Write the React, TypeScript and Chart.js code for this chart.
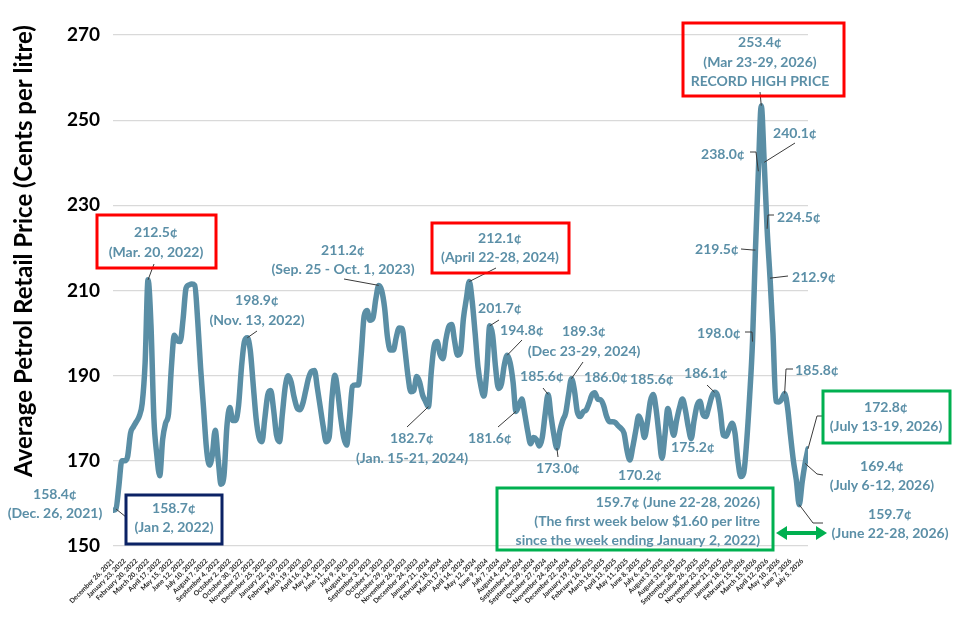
import { useEffect, useRef } from 'react';
import { Chart, registerables } from 'chart.js';

Chart.register(...registerables);

const FONT = 'Lato, "Open Sans", "DejaVu Sans", sans-serif';
const LINE_COLOR = '#5a8ea5';
const TEXT_COLOR = '#5b8fa7';
const LEADER_COLOR = '#3a3a3a';
const RED = '#ff0000';
const NAVY = '#0b2265';
const GREEN = '#00b050';

const Y_TITLE = 'Average Petrol Retail Price (Cents per litre)';
const Y_MIN = 150;
const Y_MAX = 270;
const Y_STEP = 20;

// One label every fourth week (week-ending Sundays)
const TICK_LABELS = [
  'December 26, 2021', 'January 23, 2022', 'February 20, 2022', 'March 20, 2022',
  'April 17, 2022', 'May 15, 2022', 'June 12, 2022', 'July 10, 2022',
  'August 7, 2022', 'September 4, 2022', 'October 2, 2022', 'October 30, 2022',
  'November 27, 2022', 'December 25, 2022', 'January 22, 2023', 'February 19, 2023',
  'March 19, 2023', 'April 16, 2023', 'May 14, 2023', 'June 11, 2023',
  'July 9, 2023', 'August 6, 2023', 'September 3, 2023', 'October 1, 2023',
  'October 29, 2023', 'November 26, 2023', 'December 24, 2023', 'January 21, 2024',
  'February 18, 2024', 'March 17, 2024', 'April 14, 2024', 'May 12, 2024',
  'June 9, 2024', 'July 7, 2024', 'August 4, 2024', 'September 1, 2024',
  'September 29, 2024', 'October 27, 2024', 'November 24, 2024', 'December 22, 2024',
  'January 19, 2025', 'February 16, 2025', 'March 16, 2025', 'April 13, 2025',
  'May 11, 2025', 'June 8, 2025', 'July 6, 2025', 'August 3, 2025',
  'August 31, 2025', 'September 28, 2025', 'October 26, 2025', 'November 23, 2025',
  'December 21, 2025', 'January 18, 2026', 'February 15, 2026', 'March 15, 2026',
  'April 12, 2026', 'May 10, 2026', 'June 7, 2026', 'July 5, 2026',
];

// Weekly average retail price, cents per litre (week 0 = Dec 26, 2021)
const PRICES_2022 = [
  158.4, 158.7, 164.0, 170.0, 170.0, 171.0, 176.5, 178.0, 179.2, 180.5,
  183.5, 193.0, 212.5, 202.0, 180.0, 171.4, 166.5, 175.0, 178.8, 181.0,
  192.0, 199.5, 198.2, 198.0, 203.3, 210.5, 211.3, 211.5, 211.2, 203.0,
  191.8, 182.5, 173.0, 169.0, 171.3, 177.2, 170.5, 164.5, 166.5, 178.0,
  182.5, 179.5, 179.5, 183.0, 192.0, 198.0, 198.9, 196.0, 188.0, 180.0,
  175.5, 174.5,
];
const PRICES_2023 = [
  180.0, 185.5, 186.5, 182.0, 176.0, 174.5, 181.0, 187.5, 190.0, 188.5,
  185.0, 182.5, 182.0, 183.5, 186.5, 189.5, 191.0, 191.2, 187.0, 182.5,
  178.0, 174.5, 175.5, 185.0, 190.1, 186.0, 180.0, 175.5, 173.7, 180.0,
  187.5, 187.8, 187.8, 195.0, 204.0, 205.3, 203.0, 203.5, 208.0, 211.2,
  210.0, 206.0, 199.0, 196.0, 196.0, 199.0, 201.2, 201.1, 196.0, 190.0,
  186.2, 186.5,
];
const PRICES_2024 = [
  189.8, 188.5, 185.5, 184.0, 182.7, 191.0, 197.0, 198.0, 195.0, 194.0,
  198.5, 201.5, 202.0, 198.0, 194.8, 195.5, 203.4, 208.0, 212.1, 207.5,
  200.0, 192.0, 187.5, 185.2, 191.0, 201.7, 199.5, 192.0, 187.0, 188.0,
  192.5, 194.8, 193.0, 188.5, 181.6, 183.0, 184.5, 181.0, 177.0, 174.0,
  175.5, 175.0, 173.5, 175.5, 181.0, 185.6, 180.5, 176.0, 173.0, 177.0,
  179.5, 181.2, 185.5,
];
const PRICES_2025 = [
  189.3, 186.6, 181.5, 180.4, 181.5, 181.9, 183.5, 185.5, 186.0, 184.5,
  184.3, 183.0, 180.5, 179.2, 179.2, 179.0, 178.2, 177.6, 176.5, 172.5,
  170.2, 173.3, 177.0, 180.5, 179.0, 175.5, 179.0, 184.0, 185.6, 182.0,
  176.0, 170.6, 176.0, 182.3, 179.2, 176.0, 179.5, 182.5, 184.5, 182.0,
  178.0, 175.2, 179.5, 183.0, 184.0, 181.0, 180.4, 182.5, 185.0, 186.1,
  185.4, 181.5,
];
const PRICES_2026 = [
  176.0, 175.8, 177.5, 178.8, 176.5, 170.0, 166.3, 167.2, 174.5, 185.0,
  198.0, 219.5, 238.0, 253.4, 240.1, 224.5, 212.9, 200.0, 184.0, 183.8,
  184.5, 185.8, 182.5, 176.0, 170.0, 165.5, 159.7, 165.0, 169.4, 172.8,
];
const PRICES = [...PRICES_2022, ...PRICES_2023, ...PRICES_2024, ...PRICES_2025, ...PRICES_2026];

type Pt = [number, number];
type Callout = {
  week: number;
  extra: string[];
  x: number;
  ys: number[];
  leader?: Pt[];
  box?: [number, number, number, number];
  boxColor?: string;
  align?: CanvasTextAlign;
  valueSuffix?: string;
};

// Text blocks with their leader lines; the leader always ends on the data point of `week`
const CALLOUTS: Callout[] = [
  { week: 0, extra: ['(Dec. 26, 2021)'], x: 55, ys: [494, 513] },
  { week: 1, extra: ['(Jan 2, 2022)'], x: 174, ys: [508, 527], leader: [[126, 517]], box: [126, 495, 96, 49], boxColor: NAVY },
  { week: 12, extra: ['(Mar. 20, 2022)'], x: 156, ys: [232, 252], leader: [[154, 264]], box: [97, 215, 119, 53], boxColor: RED },
  { week: 46, extra: ['(Nov. 13, 2022)'], x: 257, ys: [300, 320], leader: [[257, 331]] },
  { week: 91, extra: ['(Sep. 25 - Oct. 1, 2023)'], x: 343, ys: [250, 269], leader: [[344, 279]] },
  { week: 122, extra: ['(April 22-28, 2024)'], x: 500, ys: [238, 257], leader: [[496, 268]], box: [432, 223, 137, 50], boxColor: RED },
  { week: 108, extra: ['(Jan. 15-21, 2024)'], x: 412, ys: [438, 458], leader: [[407, 427]] },
  { week: 129, extra: [], x: 500, ys: [308], leader: [[499, 320]] },
  { week: 135, extra: [], x: 522, ys: [330], leader: [[522, 340]] },
  { week: 138, extra: [], x: 490, ys: [438], leader: [[498, 427]] },
  { week: 157, extra: ['(Dec 23-29, 2024)'], x: 584, ys: [331, 351], leader: [[583, 362]] },
  { week: 149, extra: [], x: 542, ys: [376], leader: [[543, 388]] },
  { week: 152, extra: [], x: 558, ys: [468], leader: [[558, 457]] },
  { week: 165, extra: [], x: 606, ys: [377] },
  { week: 185, extra: [], x: 652, ys: [379] },
  { week: 177, extra: [], x: 640, ys: [475] },
  { week: 198, extra: [], x: 693, ys: [447] },
  { week: 206, extra: [], x: 706, ys: [373], leader: [[707, 385]] },
  { week: 219, extra: [], x: 719, ys: [333], leader: [[745, 332], [752, 332]] },
  { week: 220, extra: [], x: 717, ys: [249], leader: [[741, 249], [753, 250]] },
  { week: 221, extra: [], x: 723, ys: [154], leader: [[750, 152], [756, 152]] },
  { week: 222, extra: ['(Mar 23-29, 2026)', 'RECORD HIGH PRICE'], x: 760, ys: [42, 62, 81], leader: [[760, 92]], box: [683, 23, 161, 73], boxColor: RED },
  { week: 223, extra: [], x: 795, ys: [133], leader: [[795, 143]] },
  { week: 224, extra: [], x: 799, ys: [217], leader: [[774, 215], [768, 215]] },
  { week: 225, extra: [], x: 814, ys: [277], leader: [[788, 276]] },
  { week: 230, extra: [], x: 817, ys: [370], leader: [[793, 369], [786, 369]] },
  { week: 238, extra: ['(July 13-19, 2026)'], x: 886, ys: [407, 426], leader: [[822, 416], [817, 416]], box: [823, 391, 127, 52], boxColor: GREEN },
  { week: 237, extra: ['(July 6-12, 2026)'], x: 882, ys: [466, 485], leader: [[823, 475], [817, 474]] },
  { week: 235, extra: ['(June 22-28, 2026)'], x: 890, ys: [514, 533], leader: [[823, 523], [813, 523]] },
  {
    week: 235,
    extra: ['(The first week below $1.60 per litre', 'since the week ending January 2, 2022)'],
    valueSuffix: ' (June 22-28, 2026)',
    x: 760, ys: [502, 521, 540], align: 'right',
    box: [497, 488, 276, 62], boxColor: GREEN,
  },
];

const ARROW = { x1: 776, x2: 827, y: 533 };

const calloutPlugin = {
  id: 'callouts',
  afterDatasetsDraw(chart: any) {
    const { ctx, scales } = chart;
    const xs = scales.x;
    const ys = scales.y;
    ctx.save();

    // vertical axis title
    ctx.save();
    ctx.translate(24, 251);
    ctx.rotate(-Math.PI / 2);
    ctx.font = `bold 24px ${FONT}`;
    ctx.fillStyle = '#000';
    ctx.textAlign = 'center';
    ctx.textBaseline = 'middle';
    ctx.fillText(Y_TITLE, 0, 0);
    ctx.restore();

    for (const c of CALLOUTS) {
      const px = xs.getPixelForValue(c.week);
      const py = ys.getPixelForValue(PRICES[c.week]);
      if (c.leader) {
        ctx.beginPath();
        ctx.strokeStyle = LEADER_COLOR;
        ctx.lineWidth = 1;
        ctx.moveTo(c.leader[0][0], c.leader[0][1]);
        for (let k = 1; k < c.leader.length; k++) ctx.lineTo(c.leader[k][0], c.leader[k][1]);
        ctx.lineTo(px, py);
        ctx.stroke();
      }
      if (c.box) {
        ctx.strokeStyle = c.boxColor;
        ctx.lineWidth = 3;
        ctx.strokeRect(c.box[0], c.box[1], c.box[2], c.box[3]);
      }
      const lines = [PRICES[c.week].toFixed(1) + '¢' + (c.valueSuffix || ''), ...c.extra];
      ctx.fillStyle = TEXT_COLOR;
      ctx.font = `bold 14px ${FONT}`;
      ctx.textAlign = c.align || 'center';
      ctx.textBaseline = 'middle';
      lines.forEach((t, k) => ctx.fillText(t, c.x, c.ys[k]));
    }

    // double-headed arrow
    const { x1, x2, y } = ARROW;
    ctx.strokeStyle = GREEN;
    ctx.fillStyle = GREEN;
    ctx.lineWidth = 4;
    ctx.beginPath();
    ctx.moveTo(x1 + 8, y);
    ctx.lineTo(x2 - 8, y);
    ctx.stroke();
    ctx.beginPath();
    ctx.moveTo(x1, y);
    ctx.lineTo(x1 + 11, y - 7);
    ctx.lineTo(x1 + 11, y + 7);
    ctx.closePath();
    ctx.fill();
    ctx.beginPath();
    ctx.moveTo(x2, y);
    ctx.lineTo(x2 - 11, y - 7);
    ctx.lineTo(x2 - 11, y + 7);
    ctx.closePath();
    ctx.fill();

    ctx.restore();
  },
};

export default function App() {
  const canvasRef = useRef<HTMLCanvasElement | null>(null);

  useEffect(() => {
    document.body.style.margin = '0';
    const canvas = canvasRef.current;
    if (!canvas) return;
    const chart = new Chart(canvas, {
      type: 'line',
      data: {
        datasets: [
          {
            data: PRICES.map((v, i) => ({ x: i, y: v })),
            borderColor: LINE_COLOR,
            borderWidth: 5.5,
            pointRadius: 0,
            cubicInterpolationMode: 'monotone',
            borderCapStyle: 'round',
            borderJoinStyle: 'round',
          },
        ],
      },
      options: {
        responsive: false,
        animation: false,
        devicePixelRatio: 1,
        layout: { padding: { top: 35, right: 157, left: 0, bottom: 0 } },
        plugins: { legend: { display: false }, tooltip: { enabled: false } },
        scales: {
          x: {
            type: 'linear',
            min: 0,
            max: PRICES.length - 1,
            afterFit: (s: any) => { s.height = 82; },
            grid: { display: false },
            border: { display: false },
            ticks: {
              stepSize: 4,
              maxTicksLimit: 100,
              includeBounds: false,
              autoSkip: false,
              minRotation: 45,
              maxRotation: 45,
              padding: 3,
              color: '#1f1f1f',
              font: { family: FONT, size: 6.8, weight: 'bold' },
              callback: (v: any) => TICK_LABELS[Math.round(Number(v) / 4)] ?? '',
            },
          },
          y: {
            min: Y_MIN,
            max: Y_MAX,
            afterFit: (s: any) => { s.width = 113; },
            grid: { color: '#d9d9d9', lineWidth: 1.3, drawTicks: false },
            border: { display: false },
            ticks: {
              stepSize: Y_STEP,
              padding: 13,
              color: '#000',
              font: { family: FONT, size: 19, weight: 'bold' },
            },
          },
        },
      },
      plugins: [calloutPlugin],
    } as any);
    return () => chart.destroy();
  }, []);

  return (
    <div style={{ width: 965, height: 628 }}>
      <canvas ref={canvasRef} width={965} height={628} />
    </div>
  );
}
